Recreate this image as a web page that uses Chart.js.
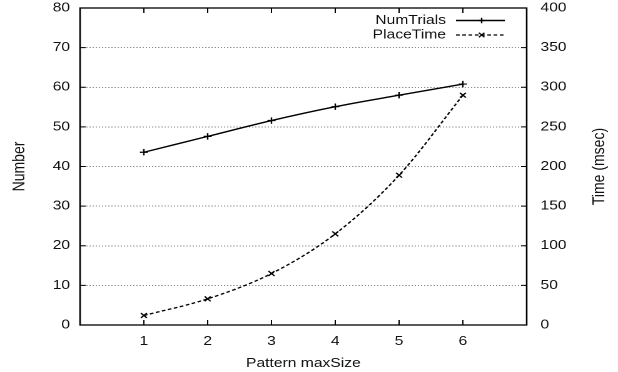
<!DOCTYPE html>
<html>
<head>
<meta charset="utf-8">
<script src="https://cdn.jsdelivr.net/npm/chart.js@4/dist/chart.umd.min.js"></script>
<style>
  html, body { margin: 0; padding: 0; background: #fff; }
</style>
</head>
<body>
<!-- drawn on a narrower canvas and stretched wide, like the original plot -->
<canvas id="plot" width="494" height="372" style="display:block;width:618px;height:372px"></canvas>
<script>
const sizes = [1, 2, 3, 4, 5, 6];
const numTrials = [43.6, 47.6, 51.6, 55.1, 58.0, 60.8];
const placeTime = [12, 33, 65, 115, 189, 290];
const seriesNames = ['NumTrials', 'PlaceTime'];

const FONT = "'Liberation Sans', Arial, Helvetica, sans-serif";
const ink = '#111';
const tickFont = { family: FONT, size: 12.5 };

// fixed axis sizes, and no extra room for half-height end labels
const fixWidth = w => s => {
  s.width = w;
  s.paddingTop = 0;
  s.paddingBottom = 0;
};

// gnuplot style box: full frame with inward tick marks on all four sides
const frame = {
  id: 'frame',
  afterDatasetsDraw(chart) {
    const { ctx, chartArea: a, scales } = chart;
    ctx.save();
    ctx.strokeStyle = '#000';
    ctx.lineWidth = 1.3;
    ctx.strokeRect(a.left, a.top, a.right - a.left, a.bottom - a.top);
    ctx.lineWidth = 1;
    ctx.beginPath();
    scales.x.ticks.forEach(t => {
      if (t.value < 1 || t.value > 6) return;
      const px = scales.x.getPixelForValue(t.value);
      ctx.moveTo(px, a.bottom); ctx.lineTo(px, a.bottom - 5);
      ctx.moveTo(px, a.top); ctx.lineTo(px, a.top + 5);
    });
    scales.y.ticks.forEach(t => {
      const py = scales.y.getPixelForValue(t.value);
      ctx.moveTo(a.left, py); ctx.lineTo(a.left + 4.5, py);
    });
    scales.y2.ticks.forEach(t => {
      const py = scales.y2.getPixelForValue(t.value);
      ctx.moveTo(a.right, py); ctx.lineTo(a.right - 4.5, py);
    });
    ctx.stroke();
    ctx.restore();
  }
};

// key in the top right corner + right axis title (reads bottom to top)
const keyAndTitle = {
  id: 'keyAndTitle',
  afterDraw(chart) {
    const { ctx, chartArea: a } = chart;
    ctx.save();
    ctx.font = `12.5px ${FONT}`;
    ctx.fillStyle = ink;
    ctx.textAlign = 'right';
    ctx.textBaseline = 'middle';
    const rows = [a.top + 12.5, a.top + 27];
    chart.data.datasets.forEach((ds, i) => {
      const y = rows[i];
      ctx.fillText(ds.label, 356.5, y);
      ctx.strokeStyle = '#000';
      ctx.lineWidth = ds.borderWidth;
      ctx.setLineDash(ds.borderDash || []);
      ctx.beginPath();
      ctx.moveTo(364.5, y); ctx.lineTo(403.5, y);
      ctx.stroke();
      ctx.setLineDash([]);
      ctx.lineWidth = ds.pointBorderWidth;
      const mx = 385, r = 2.8;
      ctx.beginPath();
      if (ds.pointStyle === 'cross') {
        ctx.moveTo(mx - r, y); ctx.lineTo(mx + r, y);
        ctx.moveTo(mx, y - r); ctx.lineTo(mx, y + r);
      } else {
        ctx.moveTo(mx - r * 0.8, y - r * 0.8); ctx.lineTo(mx + r * 0.8, y + r * 0.8);
        ctx.moveTo(mx - r * 0.8, y + r * 0.8); ctx.lineTo(mx + r * 0.8, y - r * 0.8);
      }
      ctx.stroke();
    });

    ctx.translate(479, (a.top + a.bottom) / 2);
    ctx.rotate(-Math.PI / 2);
    ctx.font = `14px ${FONT}`;
    ctx.textAlign = 'center';
    ctx.fillText('Time (msec)', 0, 0);
    ctx.restore();
  }
};

new Chart(document.getElementById('plot'), {
  type: 'line',
  data: {
    datasets: [
      {
        label: seriesNames[0],
        data: sizes.map((x, i) => ({ x, y: numTrials[i] })),
        yAxisID: 'y',
        borderColor: '#000',
        borderWidth: 1.4,
        pointStyle: 'cross',
        pointRadius: 3.2,
        pointBorderWidth: 1.2,
        pointBorderColor: '#000',
        fill: false,
        cubicInterpolationMode: 'monotone'
      },
      {
        label: seriesNames[1],
        data: sizes.map((x, i) => ({ x, y: placeTime[i] })),
        yAxisID: 'y2',
        borderColor: '#000',
        borderWidth: 1.3,
        borderDash: [3, 2],
        pointStyle: 'crossRot',
        pointRadius: 3.4,
        pointBorderWidth: 1.2,
        pointBorderColor: '#000',
        fill: false,
        cubicInterpolationMode: 'monotone'
      }
    ]
  },
  options: {
    responsive: false,
    devicePixelRatio: 2,
    animation: false,
    layout: { padding: { top: 8, right: 0, bottom: 0, left: 0 } },
    plugins: {
      legend: { display: false },
      tooltip: { enabled: false }
    },
    scales: {
      x: {
        type: 'linear',
        position: 'bottom',
        min: 0,
        max: 7,
        afterFit: s => {
          s.height = 47;
          s.paddingLeft = 0;
          s.paddingRight = 0;
        },
        grid: { display: false, drawTicks: false },
        border: { display: false },
        ticks: {
          stepSize: 1,
          padding: 9,
          font: tickFont,
          color: ink,
          callback: v => (v >= 1 && v <= 6 ? v : '')
        },
        title: {
          display: true,
          text: 'Pattern maxSize',
          font: { family: FONT, size: 12.5 },
          color: ink,
          padding: { top: 0, bottom: 1 }
        }
      },
      y: {
        position: 'left',
        min: 0,
        max: 80,
        afterFit: fixWidth(64),
        grid: { color: '#8c8c8c', lineWidth: 1, drawTicks: false },
        border: { display: false, dash: [1, 1.5] },
        ticks: { stepSize: 10, padding: 8, font: tickFont, color: ink },
        title: {
          display: true,
          text: 'Number',
          font: { family: FONT, size: 14 },
          color: ink,
          padding: { top: 7, bottom: 0 }
        }
      },
      y2: {
        position: 'right',
        min: 0,
        max: 400,
        afterFit: fixWidth(73),
        grid: { drawOnChartArea: false, drawTicks: false },
        border: { display: false },
        ticks: { stepSize: 50, padding: 11, font: tickFont, color: ink }
      }
    }
  },
  plugins: [frame, keyAndTitle]
});
</script>
</body>
</html>
